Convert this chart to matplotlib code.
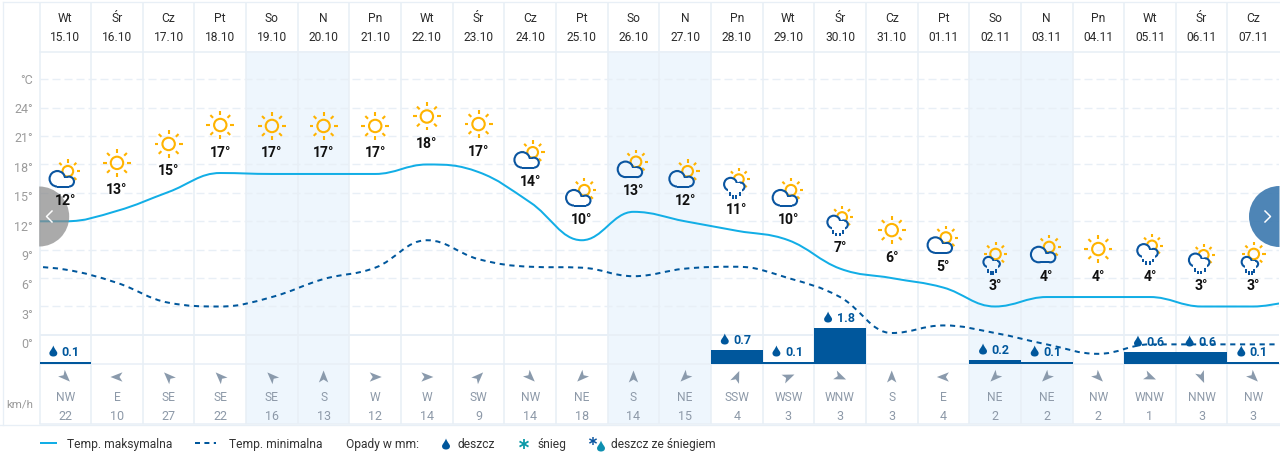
import numpy as np
import matplotlib
matplotlib.use('Agg')
import matplotlib.pyplot as plt
from matplotlib.path import Path
from matplotlib.patches import PathPatch, Circle, Rectangle, Polygon, Wedge

plt.rcParams['font.family'] = ['Roboto', 'DejaVu Sans']

days = ['Wt','Śr','Cz','Pt','So','N','Pn','Wt','Śr','Cz','Pt','So','N','Pn','Wt','Śr','Cz','Pt','So','N','Pn','Wt','Śr','Cz']
dates = ['15.10','16.10','17.10','18.10','19.10','20.10','21.10','22.10','23.10','24.10','25.10','26.10',
         '27.10','28.10','29.10','30.10','31.10','01.11','02.11','03.11','04.11','05.11','06.11','07.11']
tmax = [12.0,13.1,15.1,17.1,17.0,17.0,17.0,18.0,17.2,14.0,10.0,13.0,12.0,11.0,10.0,7.0,6.0,5.0,3.0,4.0,4.0,4.0,3.0,3.0]
tmin = [6.9,5.5,3.4,3.0,4.0,5.9,7.1,10.0,8.0,7.2,7.1,6.2,7.0,7.2,6.0,4.0,0.2,1.0,0.2,-1.0,-2.0,-1.0,-1.0,-1.0]
tmax_before, tmax_after = 12.0, 4.0
tmin_before, tmin_after = 7.3, -1.0
tlabels = [12,13,15,17,17,17,17,18,17,14,10,13,12,11,10,7,6,5,3,4,4,4,3,3]
icons = ['sc','sun','sun','sun','sun','sun','sun','sun','sun','sc','sc','sc','sc','rain','sc','rain','sun','sc',
         'small','sc','sun','rain','rain','small']
rain = [0.1,0,0,0,0,0,0,0,0,0,0,0,0,0.7,0.1,1.8,0,0,0.2,0.1,0,0.6,0.6,0.1]
wind_dir = ['NW','E','SE','SE','SE','S','W','W','SW','NW','NE','S','NE','SSW','WSW','WNW','S','E','NE','NE','NW','WNW','NNW','NW']
wind_speed = [22,10,27,22,16,13,12,14,9,14,18,14,15,4,3,3,3,4,2,2,2,1,3,3]
weekend_idx = [4,5,11,12,18,19]
bearing = {'N':0,'NNE':22.5,'NE':45,'ENE':67.5,'E':90,'ESE':112.5,'SE':135,'SSE':157.5,'S':180,
           'SSW':202.5,'SW':225,'WSW':247.5,'W':270,'WNW':292.5,'NW':315,'NNW':337.5}
grid_ticks = [0,3,6,9,12,15,18,21,24,27]
axis_labels = ['0°','3°','6°','9°','12°','15°','18°','21°','24°','°C']

W, H = 1280, 463
L0, COL = 39.5, 51.65
R0 = L0 + 24*COL
TOP, BOT = 52.0, 363.5
Y0, PXDEG = 334.9, 9.467
LINE = '#e8eff6'; SHADE = '#eef6fd'; BLUE = '#0a55a0'; DARK = '#00579c'; SKY = '#12aee6'
SUN = '#ffb300'; GREY = '#9b9b9b'; WIND = '#8d99a8'; ARROW = '#8a9aac'; TXT = '#333333'
px2pt = 0.72

fig = plt.figure(figsize=(W/100, H/100), dpi=100, facecolor='white')

def full(z):
    a = fig.add_axes([0,0,1,1], zorder=z)
    a.set_xlim(0,W); a.set_ylim(H,0); a.axis('off')
    return a

bg = full(0)
rect = [L0/W, 1-BOT/H, (R0-L0)/W, (BOT-TOP)/H]
ax = fig.add_axes(rect, zorder=1); ax.patch.set_alpha(0)
ax2 = fig.add_axes(rect, zorder=2); ax2.patch.set_alpha(0); ax2.axis('off')
ln = fig.add_axes(rect, zorder=2.5); ln.patch.set_alpha(0); ln.axis('off')
lab = fig.add_axes(rect, zorder=2); lab.patch.set_alpha(0)
px = full(3)

# frame and shading
for i in weekend_idx:
    bg.add_patch(Rectangle((L0+i*COL,51),COL,424-51,fc=SHADE,ec='none'))
for i in range(24):
    x = L0+i*COL
    bg.plot([x,x],[2,424],color=LINE,lw=1.6*px2pt,solid_capstyle='butt')
bg.plot([3,3],[2,425],color=LINE,lw=1.3*px2pt)
bg.plot([3,W],[2.3,2.3],color=LINE,lw=1.3*px2pt)
bg.plot([0,W],[425,425],color=LINE,lw=1.3*px2pt)
bg.plot([L0,W],[51.5,51.5],color=LINE,lw=1.6*px2pt)
bg.plot([L0,W],[363.7,363.7],color=LINE,lw=1.5*px2pt)
bg.plot([L0,W],[424,424],color=LINE,lw=1.5*px2pt)

# temperature axes
xlim = (-0.5, 23.5)
ylim = ((Y0-BOT)/PXDEG, (Y0-TOP)/PXDEG)
for a in (ax, ln):
    a.set_xlim(*xlim); a.set_ylim(*ylim)
for s in ax.spines.values(): s.set_visible(False)
ax.set_xticks([]); ax.set_yticks([])
for t in grid_ticks:
    if t == 0:
        ax.axhline(t,color=LINE,lw=2*px2pt,zorder=1)
    else:
        ax.axhline(t,color=LINE,lw=1.4*px2pt,dashes=(8/1.4,4/1.4),zorder=1)

# axis labels have their own spacing in the reference
lab.set_xlim(*xlim)
lab.set_ylim((343-BOT)/9.79, (343-TOP)/9.79)
lab.set_xticks([])
lab.set_yticks(grid_ticks); lab.set_yticklabels(axis_labels,color=GREY,fontsize=12.5*px2pt)
lab.tick_params(axis='y',length=0,pad=6.5*px2pt)
for s in lab.spines.values(): s.set_visible(False)

def spline(xs, ys, sm=1.5):
    n = len(xs)
    ctrl = []
    for i in range(n):
        if i == 0 or i == n-1:
            ctrl.append((xs[i],ys[i],xs[i],ys[i])); continue
        x,y = xs[i],ys[i]
        lx = (sm*x+xs[i-1])/(sm+1); ly = (sm*y+ys[i-1])/(sm+1)
        rx = (sm*x+xs[i+1])/(sm+1); ry = (sm*y+ys[i+1])/(sm+1)
        c = (ry-ly)*(rx-x)/(rx-lx)+y-ry
        ly += c; ry += c
        if ly>ys[i-1] and ly>y: ly=max(ys[i-1],y); ry=2*y-ly
        elif ly<ys[i-1] and ly<y: ly=min(ys[i-1],y); ry=2*y-ly
        if ry>ys[i+1] and ry>y: ry=max(ys[i+1],y); ly=2*y-ry
        elif ry<ys[i+1] and ry<y: ry=min(ys[i+1],y); ly=2*y-ry
        ctrl.append((lx,ly,rx,ry))
    v=[(xs[0],ys[0])]; c=[Path.MOVETO]
    for i in range(1,n):
        v += [(ctrl[i-1][2],ctrl[i-1][3]),(ctrl[i][0],ctrl[i][1]),(xs[i],ys[i])]
        c += [Path.CURVE4]*3
    return Path(v,c)

xs = np.arange(-1,25)
pmin = PathPatch(spline(xs,[tmin_before]+tmin+[tmin_after]),fc='none',ec=DARK,lw=2*px2pt,
                 linestyle=(0,(2.6,2.3)),capstyle='butt',zorder=3)
pmax = PathPatch(spline(xs,[tmax_before]+tmax+[tmax_after]),fc='none',ec=SKY,lw=2*px2pt,zorder=4)
ln.add_patch(pmin); ln.add_patch(pmax)

# rain bars: 20 px per mm
ax2.set_xlim(*xlim); ax2.set_ylim(0,(BOT-TOP)/20)
ax2.bar(np.arange(24),rain,width=1.0,color=DARK)

def to_px(x,y):
    p = ax.transData.transform((x,y))
    return p[0], H-p[1]

def drop(a,cx,cy,h=11,color=DARK,z=6):
    w=h*0.36
    v=[(cx,cy-h/2),(cx+w*0.4,cy-h*0.1),(cx+w,cy+h*0.02),(cx+w,cy+h*0.2),
       (cx+w,cy+h*0.42),(cx+w*0.5,cy+h/2),(cx,cy+h/2),
       (cx-w*0.5,cy+h/2),(cx-w,cy+h*0.42),(cx-w,cy+h*0.2),
       (cx-w,cy+h*0.02),(cx-w*0.4,cy-h*0.1),(cx,cy-h/2)]
    c=[Path.MOVETO]+[Path.CURVE4]*12
    a.add_patch(PathPatch(Path(v,c),fc=color,ec='none',zorder=z))

def sun(cx,cy,s=1.0):
    r=6.2*s
    px.add_patch(Circle((cx,cy),r,fc='none',ec=SUN,lw=2.1*px2pt,zorder=4))
    for k in range(8):
        a=k*np.pi/4
        px.plot([cx+10.2*s*np.cos(a),cx+14*s*np.cos(a)],[cy+10.2*s*np.sin(a),cy+14*s*np.sin(a)],
                color=SUN,lw=2.1*px2pt,solid_capstyle='butt',zorder=4)

def cloud(cx,cy,s,fill,rainy=False):
    t=2.1
    base=8.9*s
    lobes=[(-5*s,0,8.8*s),(6.7*s,2.8*s,6*s)]
    for (dx,dy,r) in lobes:
        px.add_patch(Circle((cx+dx,cy+dy),r,fc=BLUE,ec='none',zorder=5))
    px.add_patch(Rectangle((cx-5*s,cy+base-t),11.7*s,t,fc=BLUE,ec='none',zorder=5))
    for (dx,dy,r) in lobes:
        px.add_patch(Circle((cx+dx,cy+dy),r-t,fc=fill,ec='none',zorder=6))
    px.add_patch(Rectangle((cx-5*s,cy-1),11.7*s,base-t+1,fc=fill,ec='none',zorder=6))
    if rainy:
        px.add_patch(Rectangle((cx-7.5*s,cy+base-3.0),16*s,4,fc=fill,ec='none',zorder=6))
        for dx,dy in [(-6,0),(-2,2.5),(2,2.5),(6,0)]:
            X=cx+dx*s
            px.plot([X,X],[cy+base+0.5+dy,cy+base+4.3+dy],color=BLUE,lw=2*px2pt,solid_capstyle='butt',zorder=7)

for i in range(24):
    cx,yc = to_px(i,tmax[i])
    Ly = yc-22.5
    fill = SHADE if i in weekend_idx else 'white'
    kind = icons[i]
    if kind=='sun':
        sun(cx,Ly-25.5)
    elif kind=='sc':
        sun(cx+2.5,Ly-27.5,0.86)
        cloud(cx-3,Ly-20,1.0,fill)
    elif kind=='rain':
        sun(cx+2,Ly-29,0.8)
        cloud(cx-2,Ly-24,0.85,fill,True)
    elif kind=='small':
        sun(cx+0.5,Ly-30,0.85)
        cloud(cx-3,Ly-22,0.7,fill,True)
    px.text(cx,Ly+6,f'{tlabels[i]}°',ha='center',va='baseline',fontsize=14*px2pt,fontweight='bold',color='#111111',zorder=8)
    # header
    px.text(cx,21.5,days[i],ha='center',va='baseline',fontsize=12*px2pt,color='#2b2b2b')
    px.text(cx,41,dates[i],ha='center',va='baseline',fontsize=12*px2pt,color='#2b2b2b')
    # wind
    b=np.radians(bearing[wind_dir[i]]+180)
    pts=[(0,-6.5),(4.7,5.5),(0,2.5),(-4.7,5.5)]
    poly=[(cx+x*np.cos(b)-y*np.sin(b),377+x*np.sin(b)+y*np.cos(b)) for x,y in pts]
    px.add_patch(Polygon(poly,closed=True,fc=ARROW,ec='none'))
    px.text(cx,401,wind_dir[i],ha='center',va='baseline',fontsize=12*px2pt,color=WIND)
    px.text(cx,420,str(wind_speed[i]),ha='center',va='baseline',fontsize=12.5*px2pt,color=WIND)
    # rain label
    if rain[i]>0:
        top = BOT-rain[i]*20
        drop(px,cx-12,top-10.5)
        px.text(cx-3.5,top-6,f'{rain[i]:.1f}',ha='left',va='baseline',fontsize=12.5*px2pt,fontweight='bold',color=DARK,zorder=8)

px.text(33,408,'km/h',ha='right',va='baseline',fontsize=11.5*px2pt,color=GREY)

# nav buttons
px.add_patch(Wedge((39.2,216.5),30,-90,90,fc='#8a8a8a',ec='none',alpha=0.72,zorder=5.5))
px.add_patch(Wedge((1279.5,216.5),30.5,90,270,fc='#3f7bb0',ec='none',alpha=0.92,zorder=7))
px.plot([52,46.5,52],[211,216.5,222],color='white',lw=1.5*px2pt,zorder=9)
px.plot([1265,1270.5,1265],[211,216.5,222],color='white',lw=1.5*px2pt,zorder=9)

# legend
LY=444; LB=448
px.plot([40,57],[LY-1,LY-1],color=SKY,lw=2*px2pt,solid_capstyle='butt')
px.text(67,LB,'Temp. maksymalna',fontsize=12*px2pt,color=TXT,va='baseline')
px.plot([195,216],[LY-1,LY-1],color=DARK,lw=2*px2pt,dashes=(2.5,2.2),dash_capstyle='butt')
px.text(229,LB,'Temp. minimalna',fontsize=12*px2pt,color=TXT,va='baseline')
px.text(346,LB,'Opady w mm:',fontsize=12*px2pt,color=TXT,va='baseline')
drop(px,446,LY,h=11)
px.text(457,LB,'deszcz',fontsize=12*px2pt,color=TXT,va='baseline')
def star(cx,cy,r,color,w=1.8):
    for k in range(3):
        a=k*np.pi/3+np.pi/2
        px.plot([cx-r*np.cos(a),cx+r*np.cos(a)],[cy-r*np.sin(a),cy+r*np.sin(a)],color=color,lw=w*px2pt,solid_capstyle='butt',zorder=6)
star(524,LY,5.2,'#0d9aa8')
px.text(537,LB,'śnieg',fontsize=12*px2pt,color=TXT,va='baseline')
star(593,LY-3,4.2,BLUE,1.5)
drop(px,601,LY+2,h=11,color='#0d8fb0')
px.text(611,LB,'deszcz ze śniegiem',fontsize=12*px2pt,color=TXT,va='baseline')

fig.savefig('out.png',dpi=100,facecolor='white')
